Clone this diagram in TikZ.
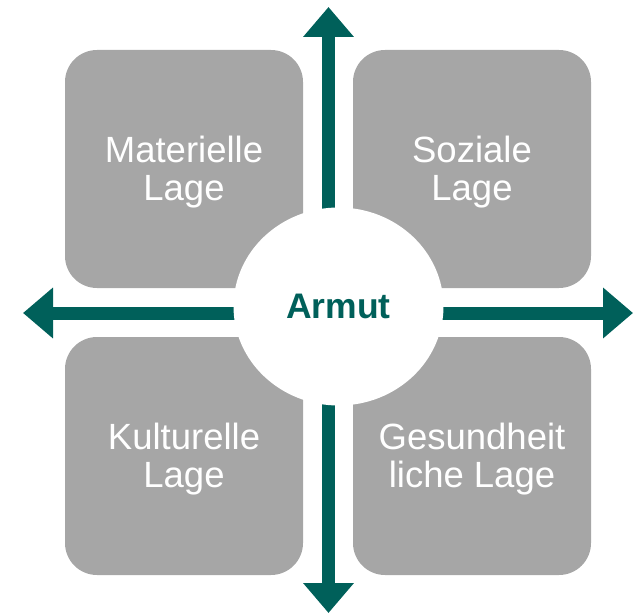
\documentclass[tikz,border=0pt]{standalone}
\usepackage{fontspec}
\setmainfont{Liberation Sans}
\usetikzlibrary{arrows.meta,shapes.geometric}
\definecolor{boxgrey}{HTML}{A6A6A6}
\definecolor{teal}{HTML}{00605A}
\tikzset{
  box/.style={fill=boxgrey, draw=none, rounded corners=32pt, minimum width=238pt, minimum height=238pt, inner sep=0pt},
  boxtext/.style={text=white, align=center, inner sep=0pt, font=\fontsize{36.5}{38}\selectfont},
  arr/.style={draw=teal, line width=13pt, -{Triangle[width=49pt,length=30pt]}},
  hub/.style={ellipse, fill=white, draw=none, minimum width=210pt, minimum height=198pt, inner sep=0pt,
    text=teal, font=\fontsize{35.5}{38}\selectfont\bfseries}
}
\begin{document}
\begin{tikzpicture}[x=1pt,y=-1pt]
\useasboundingbox (0,0) rectangle (635,615);
% boxes
\node[box] (ml) at (184,169) {};
\node[box] (sl) at (472,169) {};
\node[box] (kl) at (184,456) {};
\node[box] (gl) at (472,456) {};
\node[boxtext] (mlt) at ([yshift=-3pt]ml.center) {Materielle\\Lage};
\node[boxtext] (slt) at ([yshift=-3pt]sl.center) {Soziale\\Lage};
\node[boxtext] (klt) at ([yshift=-3pt]kl.center) {Kulturelle\\Lage};
\node[boxtext] (glt) at ([yshift=-3pt]gl.center) {Gesundheit\\liche Lage};
% arrows
\coordinate (C) at (328.5,313);
\coordinate (T) at (328.5,7);
\coordinate (B) at (328.5,613);
\coordinate (L) at (23,313);
\coordinate (R) at (633,313);
\draw[arr] (C) -- (T);
\draw[arr] (C) -- (B);
\draw[arr] (C) -- (L);
\draw[arr] (C) -- (R);
% hub
\node[hub] (armut) at (338.5,306.5) {Armut};
\end{tikzpicture}
\end{document}
